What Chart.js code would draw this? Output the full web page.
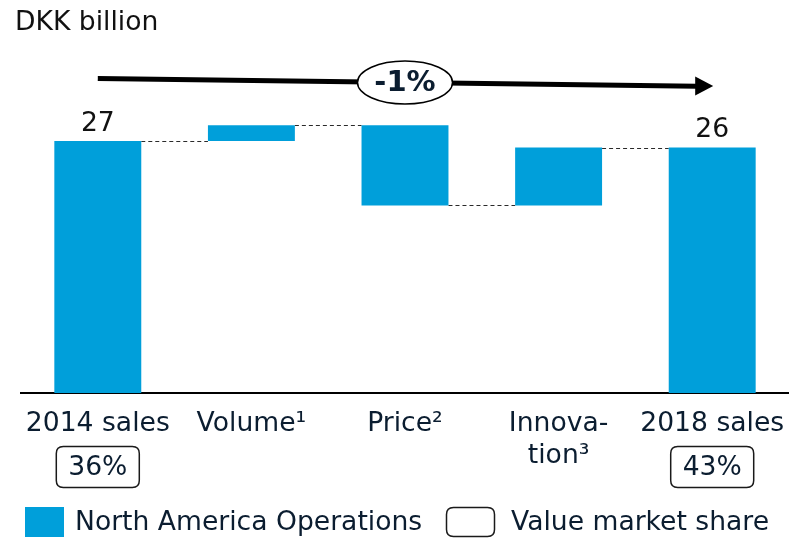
<!DOCTYPE html>
<html>
<head>
<meta charset="utf-8">
<script src="https://cdn.jsdelivr.net/npm/chart.js@4.4.1/dist/chart.umd.min.js"></script>
<style>
  html, body { margin: 0; padding: 0; background: #ffffff; }
  #wrap { width: 789px; height: 539px; position: relative; }
</style>
</head>
<body>
<div id="wrap"><canvas id="c" width="789" height="539"></canvas></div>
<script>
// ---- data ----
const categories = [['2014 sales'], ['Volume\u00B9'], ['Price\u00B2'], ['Innova-', 'tion\u00B3'], ['2018 sales']];
const barLow  = [0, 27.0, 20.1, 20.1, 0];
const barHigh = [27.0, 28.7, 28.7, 26.3, 26.3];
const totalLabels = ['27', '', '', '', '26'];
const marketShare = ['36%', '', '', '', '43%'];
const changeLabel = '-1%';
const seriesName = 'North America Operations';
const shareName = 'Value market share';
const unitLabel = 'DKK billion';

const BLUE = '#009FDA';
const TEXT = '#0b1d30';
const FONT = '"DejaVu Sans", Verdana, sans-serif';
const FS = 26.6;

function roundRect(ctx, x, y, w, h, r) {
  ctx.beginPath();
  ctx.moveTo(x + r, y);
  ctx.lineTo(x + w - r, y);
  ctx.quadraticCurveTo(x + w, y, x + w, y + r);
  ctx.lineTo(x + w, y + h - r);
  ctx.quadraticCurveTo(x + w, y + h, x + w - r, y + h);
  ctx.lineTo(x + r, y + h);
  ctx.quadraticCurveTo(x, y + h, x, y + h - r);
  ctx.lineTo(x, y + r);
  ctx.quadraticCurveTo(x, y, x + r, y);
  ctx.closePath();
}

const decor = {
  id: 'decor',
  beforeDatasetsDraw(chart) {
    // dashed connectors between consecutive bars
    const ctx = chart.ctx;
    const meta = chart.getDatasetMeta(0);
    const y = chart.scales.y;
    ctx.save();
    ctx.strokeStyle = '#2a2a2a';
    ctx.lineWidth = 1.2;
    ctx.setLineDash([4, 3]);
    for (let i = 0; i < categories.length - 1; i++) {
      const a = meta.data[i], b = meta.data[i + 1];
      let lvl;
      if (barHigh[i] === barLow[i + 1] || barHigh[i] === barHigh[i + 1]) lvl = barHigh[i];
      else lvl = barLow[i];
      const py = Math.round(y.getPixelForValue(lvl)) + 0.5;
      ctx.beginPath();
      ctx.moveTo(a.x + a.width / 2, py);
      ctx.lineTo(b.x - b.width / 2, py);
      ctx.stroke();
    }
    ctx.restore();
  },
  afterDraw(chart) {
    const ctx = chart.ctx;
    const meta = chart.getDatasetMeta(0);
    const x = chart.scales.x;
    const y = chart.scales.y;
    ctx.save();

    // unit label
    ctx.fillStyle = '#111111';
    ctx.font = FS + 'px ' + FONT;
    ctx.textAlign = 'left';
    ctx.textBaseline = 'middle';
    ctx.fillText(unitLabel, 15, 23);

    // value labels on totals
    ctx.fillStyle = '#111111';
    ctx.textAlign = 'center';
    ctx.textBaseline = 'bottom';
    totalLabels.forEach((t, i) => {
      if (!t) return;
      const el = meta.data[i];
      ctx.fillText(t, el.x, y.getPixelForValue(barHigh[i]) - 4);
    });

    // CAGR arrow
    const x0 = x.getPixelForValue(0);
    const x4 = x.getPixelForValue(4);
    const ay0 = 78.5, ay1 = 86.5;
    const tipX = x4 + 1;
    ctx.strokeStyle = '#000000';
    ctx.fillStyle = '#000000';
    ctx.lineWidth = 5;
    ctx.beginPath();
    ctx.moveTo(x0, ay0);
    ctx.lineTo(tipX - 16, ay1 - 0.2);
    ctx.stroke();
    ctx.beginPath();
    ctx.moveTo(tipX, ay1 - 0.5);
    ctx.lineTo(tipX - 18, ay1 - 10);
    ctx.lineTo(tipX - 18, ay1 + 9);
    ctx.closePath();
    ctx.fill();

    // ellipse with change label
    const cx = x.getPixelForValue(2);
    const cy = 82.5;
    ctx.beginPath();
    ctx.ellipse(cx, cy, 47.5, 21.5, 0, 0, Math.PI * 2);
    ctx.fillStyle = '#ffffff';
    ctx.fill();
    ctx.lineWidth = 1.5;
    ctx.strokeStyle = '#000000';
    ctx.stroke();
    ctx.fillStyle = TEXT;
    ctx.font = 'bold 29px ' + FONT;
    ctx.textAlign = 'center';
    ctx.textBaseline = 'middle';
    ctx.fillText(changeLabel, cx, cy + 1);

    // market share boxes
    ctx.font = FS + 'px ' + FONT;
    marketShare.forEach((t, i) => {
      if (!t) return;
      const px = x.getPixelForValue(i);
      roundRect(ctx, px - 41.5, 446.5, 83, 41, 7);
      ctx.lineWidth = 1.5;
      ctx.strokeStyle = '#1a1a1a';
      ctx.stroke();
      ctx.fillStyle = TEXT;
      ctx.textAlign = 'center';
      ctx.textBaseline = 'middle';
      ctx.fillText(t, px, 468);
    });

    // legend
    ctx.fillStyle = BLUE;
    ctx.fillRect(25, 507, 39, 30);
    ctx.fillStyle = TEXT;
    ctx.textAlign = 'left';
    ctx.textBaseline = 'middle';
    ctx.font = FS + 'px ' + FONT;
    ctx.fillText(seriesName, 75, 523);
    roundRect(ctx, 446.5, 507.5, 48, 29, 7);
    ctx.lineWidth = 1.5;
    ctx.strokeStyle = '#1a1a1a';
    ctx.stroke();
    ctx.fillStyle = TEXT;
    ctx.fillText(shareName, 511, 523);

    ctx.restore();
  }
};

new Chart(document.getElementById('c'), {
  type: 'bar',
  data: {
    labels: categories,
    datasets: [{
      label: seriesName,
      data: barLow.map((lo, i) => [lo, barHigh[i]]),
      backgroundColor: BLUE,
      borderWidth: 0,
      borderSkipped: false,
      categoryPercentage: 1,
      barPercentage: 0.566
    }]
  },
  options: {
    responsive: false,
    animation: false,
    devicePixelRatio: 1,
    layout: { padding: { left: 21, right: 0, top: 113, bottom: 0 } },
    plugins: { legend: { display: false }, tooltip: { enabled: false } },
    scales: {
      x: {
        offset: true,
        grid: { display: false, drawTicks: false },
        border: { display: true, color: '#000000', width: 2 },
        ticks: {
          color: TEXT,
          font: { family: FONT, size: FS },
          padding: 15,
          maxRotation: 0,
          autoSkip: false
        },
        afterFit(scale) {
          scale.height = 146;
          scale.paddingLeft = 0;
          scale.paddingRight = 0;
        }
      },
      y: {
        display: false,
        min: 0,
        max: 30
      }
    }
  },
  plugins: [decor]
});
</script>
</body>
</html>
